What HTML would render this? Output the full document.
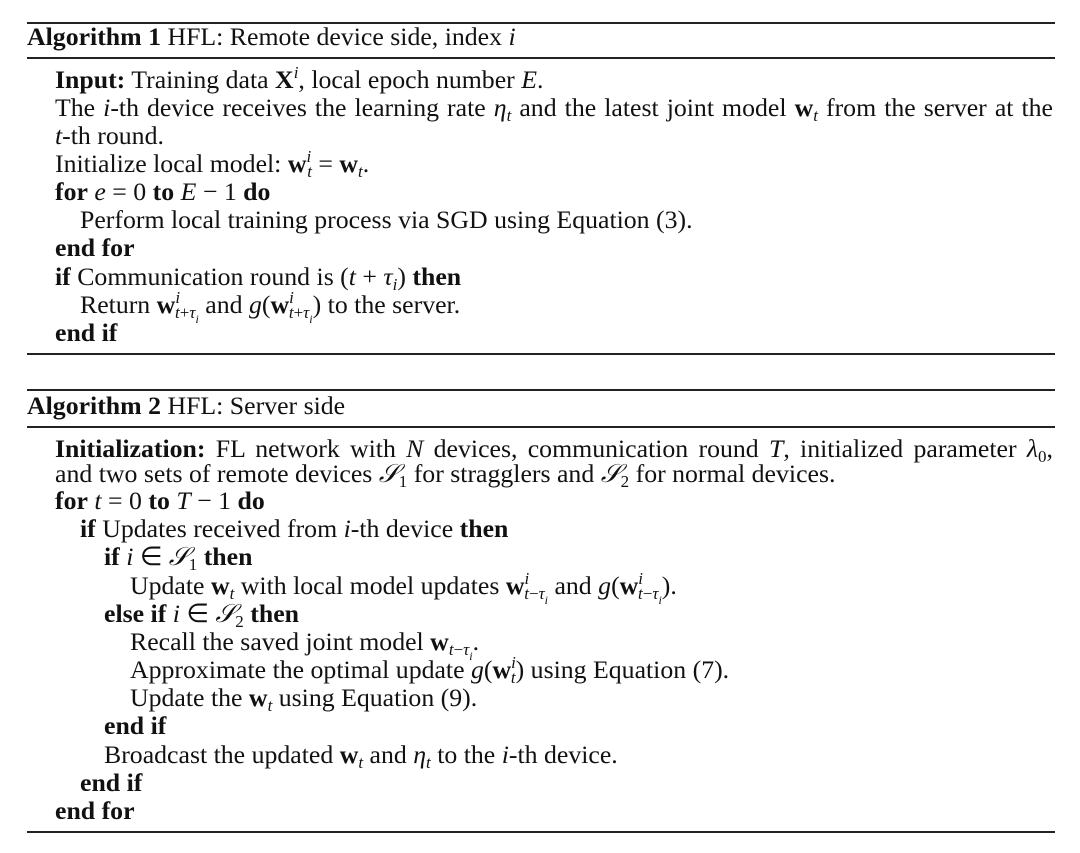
<!DOCTYPE html>
<html><head><meta charset="utf-8"><style>
body{margin:0;width:1080px;height:853px;background:#fff;position:relative;overflow:hidden;font-family:"Liberation Serif",serif;font-size:25.8px;color:#111}
.l{position:absolute;white-space:nowrap;line-height:26px}
.r{position:absolute;left:27px;width:1028px;background:#222}
i{font-style:italic}
b{font-weight:bold}
.v{font-weight:bold;font-style:normal}
sub,sup{font-size:17px;line-height:0}
sub{vertical-align:-5px}
sup{vertical-align:10px}
.t{font-size:12px}
</style></head><body>
<div class="r" style="top:22px;height:2px"></div>
<div class="l" style="left:27px;top:24px"><b>Algorithm 1</b> HFL: Remote device side, index <i>i</i></div>
<div class="r" style="top:57px;height:1.5px"></div>
<div class="l" style="left:55px;top:67px"><b>Input:</b> Training data <span class="v">X</span><sup><i>i</i></sup>, local epoch number <i>E</i>.</div>
<div class="l" style="left:55px;top:95px;width:998px;text-align:justify;text-align-last:justify;white-space:normal">The <i>i</i>-th device receives the learning rate <i>η<sub>t</sub></i> and the latest joint model <span class="v">w</span><sub><i>t</i></sub> from the server at the</div>
<div class="l" style="left:55px;top:123px"><i>t</i>-th round.</div>
<div class="l" style="left:55px;top:151px">Initialize local model: <span class="v">w</span><sup><i>i</i></sup><sub style="margin-left:-4px"><i>t</i></sub> = <span class="v">w</span><sub><i>t</i></sub>.</div>
<div class="l" style="left:55px;top:179px"><b>for</b> <i>e</i> = 0 <b>to</b> <i>E</i> − 1 <b>do</b></div>
<div class="l" style="left:80px;top:207px">Perform local training process via SGD using Equation (3).</div>
<div class="l" style="left:55px;top:235px"><b>end for</b></div>
<div class="l" style="left:55px;top:264px"><b>if</b> Communication round is (<i>t</i> + <i>τ<sub>i</sub></i>) <b>then</b></div>
<div class="l" style="left:80px;top:292px">Return <span class="v">w</span><sup><i>i</i></sup><sub style="margin-left:-5px"><i>t</i>+<i>τ<sub class="t">i</sub></i></sub> and <i>g</i>(<span class="v">w</span><sup><i>i</i></sup><sub style="margin-left:-5px"><i>t</i>+<i>τ<sub class="t">i</sub></i></sub>) to the server.</div>
<div class="l" style="left:55px;top:320px"><b>end if</b></div>
<div class="r" style="top:353px;height:1.5px"></div>

<div class="r" style="top:389px;height:2px"></div>
<div class="l" style="left:27px;top:393px"><b>Algorithm 2</b> HFL: Server side</div>
<div class="r" style="top:426px;height:1.5px"></div>
<div class="l" style="left:55px;top:436px;width:998px;text-align:justify;text-align-last:justify;white-space:normal"><b>Initialization:</b> FL network with <i>N</i> devices, communication round <i>T</i>, initialized parameter <i>λ</i><sub>0</sub>,</div>
<div class="l" style="left:55px;top:461px">and two sets of remote devices <i>𝒮</i><sub>1</sub> for stragglers and <i>𝒮</i><sub>2</sub> for normal devices.</div>
<div class="l" style="left:55px;top:488px"><b>for</b> <i>t</i> = 0 <b>to</b> <i>T</i> − 1 <b>do</b></div>
<div class="l" style="left:80px;top:516px"><b>if</b> Updates received from <i>i</i>-th device <b>then</b></div>
<div class="l" style="left:104px;top:544px"><b>if</b> <i>i</i> ∈ <i>𝒮</i><sub>1</sub> <b>then</b></div>
<div class="l" style="left:130px;top:573px">Update <span class="v">w</span><sub><i>t</i></sub> with local model updates <span class="v">w</span><sup><i>i</i></sup><sub style="margin-left:-5px"><i>t</i>−<i>τ<sub class="t">i</sub></i></sub> and <i>g</i>(<span class="v">w</span><sup><i>i</i></sup><sub style="margin-left:-5px"><i>t</i>−<i>τ<sub class="t">i</sub></i></sub>).</div>
<div class="l" style="left:104px;top:601px"><b>else if</b> <i>i</i> ∈ <i>𝒮</i><sub>2</sub> <b>then</b></div>
<div class="l" style="left:130px;top:629px">Recall the saved joint model <span class="v">w</span><sub><i>t</i>−<i>τ<sub class="t">i</sub></i></sub>.</div>
<div class="l" style="left:130px;top:657px">Approximate the optimal update <i>g</i>(<span class="v">w</span><sup><i>i</i></sup><sub style="margin-left:-5px"><i>t</i></sub>) using Equation (7).</div>
<div class="l" style="left:130px;top:685px">Update the <span class="v">w</span><sub><i>t</i></sub> using Equation (9).</div>
<div class="l" style="left:104px;top:713px"><b>end if</b></div>
<div class="l" style="left:104px;top:742px">Broadcast the updated <span class="v">w</span><sub><i>t</i></sub> and <i>η<sub>t</sub></i> to the <i>i</i>-th device.</div>
<div class="l" style="left:80px;top:770px"><b>end if</b></div>
<div class="l" style="left:55px;top:798px"><b>end for</b></div>
<div class="r" style="top:831px;height:1.5px"></div>
</body></html>
